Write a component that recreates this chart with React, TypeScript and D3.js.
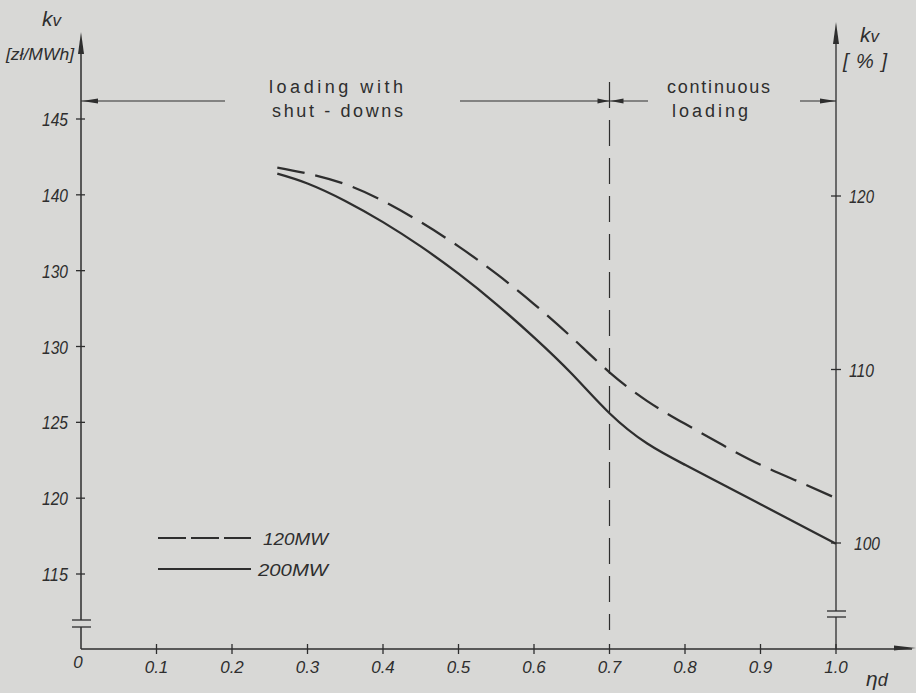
import React from "react";
import * as d3 from "d3";

// efficiency of loading (x) and unit cost k_v [zł/MWh] (left axis)
const etaValues = [0.26, 0.3, 0.35, 0.4, 0.45, 0.5, 0.55, 0.6, 0.65, 0.7, 0.75, 0.8, 0.85, 0.9, 0.95, 1.0];
const cost120 = [141.8, 141.4, 140.7, 139.6, 138.2, 136.6, 134.8, 132.8, 130.6, 128.3, 126.4, 124.9, 123.5, 122.2, 121.1, 120.0];
const cost200 = [141.4, 140.75, 139.6, 138.2, 136.6, 134.8, 132.8, 130.6, 128.2, 125.6, 123.6, 122.2, 120.9, 119.6, 118.3, 117.0];

const xTicks = [0, 0.1, 0.2, 0.3, 0.4, 0.5, 0.6, 0.7, 0.8, 0.9, 1.0];
const xTickLabels = ["0", "0.1", "0.2", "0.3", "0.4", "0.5", "0.6", "0.7", "0.8", "0.9", "1.0"];
const leftTicks = [145, 140, 135, 130, 125, 120, 115];
const leftTickLabels = ["145", "140", "130", "130", "125", "120", "115"]; // as written on the original
const rightTicks = [120, 110, 100];
const rightTickLabels = ["120", "110", "100"];
const boundary = 0.7;

const series = [
  { name: "120 MW", values: cost120, dash: "28,11", legendDash: "28,5" },
  { name: "200 MW", values: cost200, dash: null, legendDash: null },
];

const W = 916;
const H = 693;
const ink = "#2e2e2e";
const paper = "#d8d8d6";
const numFont = "'Liberation Sans', sans-serif";

export default function App() {
  const x = d3.scaleLinear().domain([0, 1]).range([81, 836]);
  const yL = d3.scaleLinear().domain([115, 145]).range([574, 119]);
  const yR = d3.scaleLinear().domain([100, 120]).range([543, 196]);
  const x0 = x(0);
  const x1 = x(1);
  const yBase = 649;
  const xb = x(boundary);
  const arrowY = 101;

  const line = d3
    .line<[number, number]>()
    .x((d) => x(d[0]))
    .y((d) => yL(d[1]))
    .curve(d3.curveNatural);

  // small filled arrowheads
  const headH = (tipX: number, y: number, dir: number, len = 15) =>
    `M${tipX},${y} L${tipX - dir * len},${y - 2.5} L${tipX - dir * len},${y + 2.5} Z`;
  const headV = (xx: number, tipY: number, len = 22) =>
    `M${xx},${tipY} L${xx - 3},${tipY + len} L${xx + 3},${tipY + len} Z`;

  return (
    <svg
      width={W}
      height={H}
      style={{ position: "absolute", left: 0, top: 0, background: paper }}
      fontFamily={numFont}
    >
      <rect width={W} height={H} fill={paper} />

      {/* left axis */}
      <line x1={x0} x2={x0} y1={40} y2={620} stroke={ink} strokeWidth={1.5} />
      <line x1={x0} x2={x0} y1={627} y2={yBase} stroke={ink} strokeWidth={1.5} />
      <line x1={x0 - 9} x2={x0 + 10} y1={620} y2={620} stroke={ink} strokeWidth={1.3} />
      <line x1={x0 - 9} x2={x0 + 10} y1={627} y2={627} stroke={ink} strokeWidth={1.3} />
      <path d={headV(x0, 32)} fill={ink} />
      {leftTicks.map((t, i) => (
        <g key={"l" + i}>
          <line x1={x0 - 5} x2={x0 + 4} y1={yL(t)} y2={yL(t)} stroke={ink} strokeWidth={1.3} />
          <text x={68} y={yL(t) + 7} textAnchor="end" fontSize={18} fontStyle="italic" fill={ink} textLength={26} lengthAdjust="spacingAndGlyphs">
            {leftTickLabels[i]}
          </text>
        </g>
      ))}
      <text x={42} y={26} fontSize={21} fontStyle="italic" fill={ink}>k<tspan fontSize={17}>v</tspan></text>
      <text x={6} y={60} fontSize={16} fontStyle="italic" fill={ink} textLength={68} lengthAdjust="spacingAndGlyphs">[zł/MWh]</text>

      {/* right axis */}
      <line x1={x1} x2={x1} y1={30} y2={611} stroke={ink} strokeWidth={1.3} />
      <line x1={x1} x2={x1} y1={617} y2={yBase} stroke={ink} strokeWidth={1.3} />
      <line x1={x1 - 9} x2={x1 + 10} y1={611} y2={611} stroke={ink} strokeWidth={1.3} />
      <line x1={x1 - 9} x2={x1 + 10} y1={617} y2={617} stroke={ink} strokeWidth={1.3} />
      <path d={headV(x1, 22)} fill={ink} />
      {rightTicks.map((t, i) => (
        <g key={"r" + i}>
          <line x1={x1 - 5} x2={x1 + 5} y1={yR(t)} y2={yR(t)} stroke={ink} strokeWidth={1.3} />
          <text x={i === 2 ? 854 : 849} y={yR(t) + 7} fontSize={18} fontStyle="italic" fill={ink} textLength={i === 2 ? 26 : 25} lengthAdjust="spacingAndGlyphs">
            {rightTickLabels[i]}
          </text>
        </g>
      ))}
      <text x={860} y={42} fontSize={21} fontStyle="italic" fill={ink}>k<tspan fontSize={17}>v</tspan></text>
      <text x={843} y={68} fontSize={20} fontStyle="italic" fill={ink} textLength={44} lengthAdjust="spacing">[%]</text>

      {/* x axis */}
      <line x1={x0} x2={W - 4} y1={yBase} y2={yBase} stroke={ink} strokeWidth={1.3} />
      <path d={headH(W, yBase - 1, 1, 22)} fill={ink} />
      {xTicks.map((t, i) => (
        <g key={"x" + i}>
          {i > 0 && <line x1={x(t)} x2={x(t)} y1={yBase - 5} y2={yBase + 5} stroke={ink} strokeWidth={1.3} />}
          <text x={x(t) - (i === 0 ? 3 : 0)} y={i === 0 ? 668 : 673} textAnchor="middle" fontSize={17} fontStyle="italic" fill={ink}>
            {xTickLabels[i]}
          </text>
        </g>
      ))}
      <text x={866} y={686} fontSize={21} fontStyle="italic" fill={ink}>η<tspan fontSize={18}>d</tspan></text>

      {/* boundary between regimes */}
      <line x1={xb} x2={xb} y1={82} y2={630} stroke={ink} strokeWidth={1.2} strokeDasharray="26,12" />
      <line x1={x0} x2={225} y1={arrowY} y2={arrowY} stroke={ink} strokeWidth={1.2} />
      <path d={headH(x0 + 1, arrowY, -1, 16)} fill={ink} />
      <line x1={460} x2={xb} y1={arrowY} y2={arrowY} stroke={ink} strokeWidth={1.2} />
      <path d={headH(xb, arrowY, 1, 12)} fill={ink} />
      <line x1={xb} x2={648} y1={arrowY} y2={arrowY} stroke={ink} strokeWidth={1.2} />
      <path d={headH(xb + 1, arrowY, -1, 13)} fill={ink} />
      <line x1={800} x2={x1} y1={arrowY} y2={arrowY} stroke={ink} strokeWidth={1.2} />
      <path d={headH(x1, arrowY, 1, 16)} fill={ink} />

      <text x={269} y={93} fontSize={18} fill={ink} textLength={134} lengthAdjust="spacing">loading with</text>
      <text x={272} y={117} fontSize={18} fill={ink} textLength={131} lengthAdjust="spacing">shut - downs</text>
      <text x={667} y={93} fontSize={18} fill={ink} textLength={103} lengthAdjust="spacing">continuous</text>
      <text x={672} y={117} fontSize={18} fill={ink} textLength={76} lengthAdjust="spacing">loading</text>

      {/* curves */}
      {series.map((s) => (
        <path
          key={s.name}
          d={line(etaValues.map((e, i) => [e, s.values[i]] as [number, number])) || ""}
          fill="none"
          stroke={ink}
          strokeWidth={2.3}
          strokeDasharray={s.dash || undefined}
          strokeLinecap="butt"
        />
      ))}

      {/* legend */}
      {series.map((s, i) => (
        <g key={"lg" + i} transform={`translate(0, ${538 + i * 31})`}>
          <line x1={158} x2={251} y1={0} y2={0} stroke={ink} strokeWidth={2.2} strokeDasharray={s.legendDash || undefined} />
          <text x={i === 0 ? 263 : 258} y={7} fontSize={17} fontStyle="italic" fill={ink} textLength={i === 0 ? 65 : 70} lengthAdjust="spacingAndGlyphs">
            {s.name.replace(" ", "")}
          </text>
        </g>
      ))}
    </svg>
  );
}
